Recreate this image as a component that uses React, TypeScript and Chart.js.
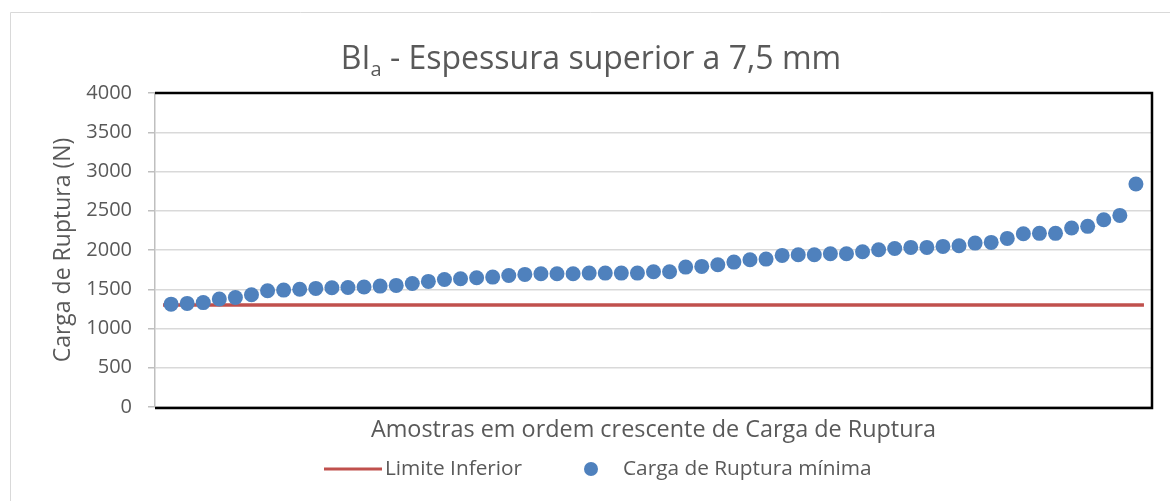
import React, { useEffect, useRef } from "react";
import { Chart, registerables } from "chart.js";

Chart.register(...registerables);

// ---- data ----
const cargaRuptura: number[] = [
  1310, 1320, 1330, 1375, 1395, 1430, 1480, 1489, 1500, 1511,
  1519, 1523, 1528, 1540, 1549, 1574, 1600, 1625, 1634, 1647,
  1655, 1676, 1689, 1698, 1698, 1698, 1706, 1706, 1706, 1706,
  1723, 1723, 1782, 1791, 1812, 1846, 1876, 1884, 1931, 1940,
  1940, 1952, 1952, 1978, 2003, 2020, 2033, 2033, 2046, 2054,
  2088, 2097, 2148, 2207, 2212, 2212, 2280, 2301, 2386, 2441,
  2840,
];
const amostras: number[] = cargaRuptura.map((_, i) => i + 1);
const limiteInferior = 1300;
const yMin = 0;
const yMax = 4000;
const yStep = 500;

const titleMain = "BI";
const titleSub = "a";
const titleRest = " - Espessura superior a 7,5 mm";
const xTitle = "Amostras em ordem crescente de Carga de Ruptura";
const yTitle = "Carga de Ruptura (N)";
const legendLine = "Limite Inferior";
const legendDots = "Carga de Ruptura mínima";

const FONT = "'Open Sans', 'Noto Sans', sans-serif";
const TEXT = "#595959";
const BLUE = "#4F81BD";
const RED = "#C0504D";

const decoPlugin = {
  id: "deco",
  beforeDraw(chart: any) {
    const ctx = chart.ctx;
    ctx.save();
    ctx.strokeStyle = "#d9d9d9";
    ctx.lineWidth = 1;
    ctx.beginPath();
    ctx.moveTo(10.5, chart.height);
    ctx.lineTo(10.5, 12.5);
    ctx.lineTo(chart.width, 12.5);
    ctx.stroke();
    ctx.restore();
  },
  afterDraw(chart: any) {
    const ctx = chart.ctx;
    const ca = chart.chartArea;
    ctx.save();
    // plot area border (top, right, bottom)
    ctx.strokeStyle = "#000000";
    ctx.lineWidth = 2.5;
    ctx.beginPath();
    ctx.moveTo(ca.left, ca.top);
    ctx.lineTo(ca.right, ca.top);
    ctx.lineTo(ca.right, ca.bottom + 1);
    ctx.lineTo(ca.left, ca.bottom + 1);
    ctx.stroke();

    ctx.fillStyle = TEXT;
    // title with subscript
    const ts = 32;
    const ss = 20;
    ctx.font = `${ts}px ${FONT}`;
    const w1 = ctx.measureText(titleMain).width;
    const w3 = ctx.measureText(titleRest).width;
    ctx.font = `${ss}px ${FONT}`;
    const w2 = ctx.measureText(titleSub).width;
    const total = w1 + w2 + w3;
    let x = 591 - total / 2;
    const base = 69;
    ctx.textBaseline = "alphabetic";
    ctx.textAlign = "left";
    ctx.font = `${ts}px ${FONT}`;
    ctx.fillText(titleMain, x, base);
    x += w1;
    ctx.font = `${ss}px ${FONT}`;
    ctx.fillText(titleSub, x, base + 7);
    x += w2;
    ctx.font = `${ts}px ${FONT}`;
    ctx.fillText(titleRest, x, base);

    // x axis title
    ctx.font = `23.4px ${FONT}`;
    ctx.textAlign = "center";
    ctx.textBaseline = "middle";
    ctx.fillText(xTitle, (ca.left + ca.right) / 2, 430);

    // y axis title
    ctx.save();
    ctx.translate(63, (ca.top + ca.bottom) / 2);
    ctx.rotate(-Math.PI / 2);
    ctx.font = `23px ${FONT}`;
    ctx.fillText(yTitle, 0, 0);
    ctx.restore();

    // legend
    const ly = 469;
    ctx.font = `20.8px ${FONT}`;
    ctx.textAlign = "left";
    ctx.strokeStyle = RED;
    ctx.lineWidth = 3;
    ctx.beginPath();
    ctx.moveTo(324, ly);
    ctx.lineTo(382, ly);
    ctx.stroke();
    ctx.fillText(legendLine, 385, ly);
    ctx.fillStyle = BLUE;
    ctx.beginPath();
    ctx.arc(591, ly, 7, 0, Math.PI * 2);
    ctx.fill();
    ctx.fillStyle = TEXT;
    ctx.fillText(legendDots, 623, ly);
    ctx.restore();
  },
};

export default function App() {
  const ref = useRef<HTMLCanvasElement | null>(null);
  useEffect(() => {
    if (!ref.current) return;
    const n = amostras.length;
    const chart = new Chart(ref.current, {
      type: "scatter",
      data: {
        datasets: [
          {
            type: "scatter",
            label: legendDots,
            data: amostras.map((a, i) => ({ x: a, y: cargaRuptura[i] })),
            backgroundColor: BLUE,
            borderColor: BLUE,
            borderWidth: 0,
            pointRadius: 7.5,
            order: 0,
          },
          {
            type: "line",
            label: legendLine,
            data: [
              { x: amostras[0] - 0.5, y: limiteInferior },
              { x: amostras[n - 1] + 0.5, y: limiteInferior },
            ],
            borderColor: RED,
            backgroundColor: RED,
            borderWidth: 3.5,
            pointRadius: 0,
            order: 1,
          } as any,
        ],
      },
      options: {
        responsive: false,
        animation: false,
        layout: { padding: { left: 0, right: 18, top: 93, bottom: 94 } },
        plugins: {
          legend: { display: false },
          title: { display: false },
          tooltip: { enabled: false },
        },
        scales: {
          x: {
            type: "linear",
            min: 0,
            max: n + 1,
            display: false,
          },
          y: {
            min: yMin,
            max: yMax,
            afterFit: (s: any) => {
              s.width = 155;
            },
            ticks: {
              stepSize: yStep,
              color: TEXT,
              padding: 16,
              font: { family: FONT, size: 20 },
              callback: (v: any) => String(v),
            },
            grid: {
              color: "#d9d9d9",
              tickColor: "#bfbfbf",
              tickLength: 7,
              lineWidth: 1.5,
            },
            border: { color: "#bfbfbf", width: 1.5 },
          },
        },
      },
      plugins: [decoPlugin],
    });
    return () => chart.destroy();
  }, []);
  return (
    <div style={{ position: "fixed", left: 0, top: 0, width: 1170, height: 501, background: "#fff" }}>
      <canvas ref={ref} width={1170} height={501} style={{ display: "block" }} />
    </div>
  );
}
